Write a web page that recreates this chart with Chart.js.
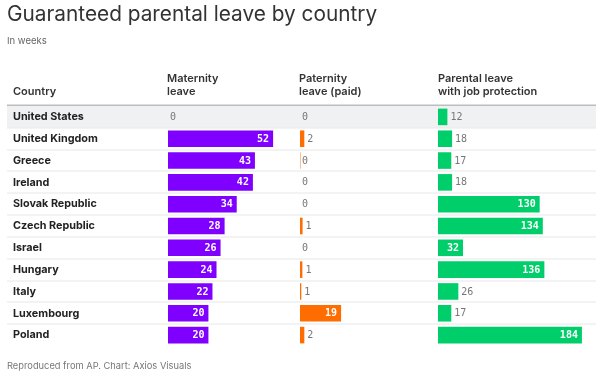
<!DOCTYPE html>
<html>
<head>
<meta charset="utf-8">
<script src="https://cdn.jsdelivr.net/npm/chart.js@4.4.1/dist/chart.umd.min.js"></script>
<style>
  body { margin: 0; background: #fff; font-family: Inter, "Noto Sans", sans-serif; }
  #wrap { position: relative; width: 600px; height: 378px; overflow: hidden; }
  #myChart { position: absolute; left: 0; top: 0; }
  .title { position: absolute; left: 7px; top: 1px; font-size: 20.8px; line-height: 25px; color: #333; white-space: nowrap; }
  .sub { position: absolute; left: 7px; top: 35px; font-size: 9.5px; line-height: 12px; color: #666; }
  .foot { position: absolute; left: 7px; top: 360px; font-size: 9.3px; line-height: 12px; color: #777; white-space: nowrap; }
</style>
</head>
<body>
<div id="wrap">
  <canvas id="myChart" width="600" height="378"></canvas>
  <div class="title">Guaranteed parental leave by country</div>
  <div class="sub">In weeks</div>
  <div class="foot">Reproduced from AP. Chart: Axios Visuals</div>
</div>
<script>
const countries = ['United States', 'United Kingdom', 'Greece', 'Ireland', 'Slovak Republic',
  'Czech Republic', 'Israel', 'Hungary', 'Italy', 'Luxembourg', 'Poland'];
const maternity = [0, 52, 43, 42, 34, 28, 26, 24, 22, 20, 20];
const paternity = [0, 2, 0.2, 0, 0, 1.2, 0, 1.1, 0.6, 19, 2];
const parental = [12, 18, 17, 18, 130, 134, 32, 136, 26, 17, 184];
const headerLabels = [['Country'], ['Maternity', 'leave'], ['Paternity', 'leave (paid)'], ['Parental leave', 'with job protection']];

const purple = '#7f00ff', orange = '#ff6c00', green = '#00ce6a';
const rowLeft = 7, rowRight = 596;

// row backgrounds + separators
const rowsPlugin = {
  id: 'rows',
  beforeDraw(chart) {
    const ctx = chart.ctx;
    const y = chart.scales.y;
    const band = y.getPixelForValue(1) - y.getPixelForValue(0);
    ctx.save();
    countries.forEach((c, i) => {
      const top = y.getPixelForValue(i) - band / 2;
      if (i === 0) {
        ctx.fillStyle = '#f0f1f3';
        ctx.fillRect(rowLeft, top, rowRight - rowLeft, band);
      } else {
        ctx.fillStyle = '#e8e8e8';
        ctx.fillRect(rowLeft, Math.round(top) - 0.5, rowRight - rowLeft, 1);
      }
    });
    const top0 = y.getPixelForValue(0) - band / 2;
    ctx.fillStyle = '#bdbdbd';
    ctx.fillRect(rowLeft, top0 - 1.5, rowRight - rowLeft, 1.5);
    ctx.restore();
  }
};

// column headers
const headerPlugin = {
  id: 'headers',
  afterDraw(chart) {
    const ctx = chart.ctx;
    const xs = [13, chart.scales.x1.left - 1, chart.scales.x2.left - 1, chart.scales.x3.left];
    ctx.save();
    ctx.font = '600 11px Inter';
    ctx.fillStyle = '#333';
    ctx.textBaseline = 'alphabetic';
    headerLabels.forEach((lines, i) => {
      lines.forEach((t, j) => {
        ctx.fillText(t, xs[i], 95 - (lines.length - 1 - j) * 13);
      });
    });
    ctx.restore();
  }
};

// value labels in / beside bars
const valuePlugin = {
  id: 'values',
  afterDatasetsDraw(chart) {
    const ctx = chart.ctx;
    ctx.save();
    ctx.textBaseline = 'middle';
    chart.data.datasets.forEach((ds, di) => {
      const meta = chart.getDatasetMeta(di);
      meta.data.forEach((bar, i) => {
        const txt = String(Math.round(ds.data[i]));
        const w = bar.x - bar.base;
        ctx.font = 'bold 10px "DejaVu Sans Mono"';
        const tw = ctx.measureText(txt).width;
        if (w >= tw + 9) {
          ctx.fillStyle = '#fff';
          ctx.textAlign = 'right';
          ctx.fillText(txt, bar.x - 4, bar.y + 0.5);
        } else {
          ctx.font = '10px "DejaVu Sans Mono"';
          ctx.fillStyle = '#777';
          ctx.textAlign = 'left';
          ctx.fillText(txt, w < 0.5 ? bar.base + 2 : bar.x + 3, bar.y + 0.5);
        }
      });
    });
    ctx.restore();
  }
};

const ctx = document.querySelector('#myChart');
const myChart = new Chart(ctx, {
  type: 'bar',
  data: {
    labels: countries,
    datasets: [
      { label: 'Maternity leave', data: maternity, backgroundColor: purple, xAxisID: 'x1' },
      { label: 'Paternity leave (paid)', data: paternity, backgroundColor: orange, xAxisID: 'x2' },
      { label: 'Parental leave with job protection', data: parental, backgroundColor: green, xAxisID: 'x3' }
    ]
  },
  options: {
    indexAxis: 'y',
    responsive: false,
    animation: false,
    datasets: { bar: { grouped: false, barPercentage: 0.76, categoryPercentage: 1 } },
    layout: { padding: { left: 13, right: 4, top: 106, bottom: 32 } },
    plugins: { legend: { display: false }, tooltip: { enabled: false } },
    scales: {
      y: {
        grid: { display: false },
        border: { display: false },
        ticks: { crossAlign: 'far', color: '#222', font: { family: 'Inter', size: 10.8, weight: 'bold' } },
        afterFit(scale) { scale.width = 155; }
      },
      x1: { type: 'linear', position: 'bottom', stack: 'cols', stackWeight: 132, min: 0, max: 65.3, display: false },
      x2: { type: 'linear', position: 'bottom', stack: 'cols', stackWeight: 138, min: 0, max: 63.8, display: false },
      x3: { type: 'linear', position: 'bottom', stack: 'cols', stackWeight: 158, min: 0, max: 202, display: false }
    }
  },
  plugins: [rowsPlugin, headerPlugin, valuePlugin]
});
</script>
</body>
</html>
